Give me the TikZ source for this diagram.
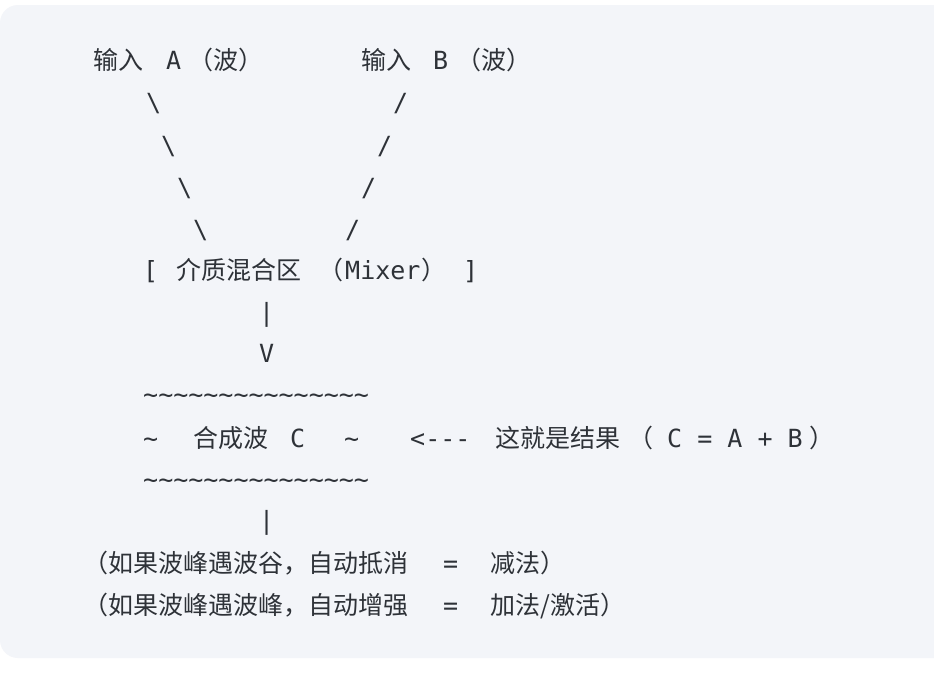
\documentclass[tikz,border=0pt]{standalone}
\usepackage{fontspec}
\setmonofont{DejaVu Sans Mono}
\newfontfamily\cjk{Noto Sans CJK SC}
\definecolor{bg}{HTML}{F3F5F9}
\definecolor{tx}{HTML}{2E3238}
\begin{document}
\begin{tikzpicture}[x=1pt,y=-1pt,
  m/.style={anchor=base west,inner sep=0pt,text=tx,font=\fontsize{25}{25}\ttfamily},
  c/.style={anchor=base west,inner sep=0pt,text=tx,font=\fontsize{25}{25}\cjk}]
\useasboundingbox (0,0) rectangle (934,672);
\fill[white] (0,0) rectangle (934,672);
\fill[bg,rounded corners=18pt] (0,5) rectangle (960,658);
\def\b{9}
% line 1
\node[c] (a1) at (93,60+\b) {输入};
\node[m] (a2) at (166,60+\b) {A};
\node[c] (a3) at (188,60+\b) {（波）};
\node[c] (b1) at (361,60+\b) {输入};
\node[m] (b2) at (433,60+\b) {B};
\node[c] (b3) at (456,60+\b) {（波）};
% slashes
\node[m] (s1) at (146,102+\b) {\textbackslash};
\node[m] (s2) at (161,145+\b) {\textbackslash};
\node[m] (s3) at (177,187+\b) {\textbackslash};
\node[m] (s4) at (193,229+\b) {\textbackslash};
\node[m] (t1) at (393,102+\b) {/};
\node[m] (t2) at (377,145+\b) {/};
\node[m] (t3) at (361,187+\b) {/};
\node[m] (t4) at (345,229+\b) {/};
% mixer
\node[m] (m1) at (143,270+\b) {[};
\node[c] (m2) at (176,270+\b) {介质混合区};
\node[c] (m3) at (318,270+\b) {（};
\node[m] (m4) at (345,270+\b) {Mixer};
\node[c] (m5) at (421,270+\b) {）};
\node[m] (m6) at (463,270+\b) {]};
\node[m] (p1) at (259,312+\b) {|};
\node[m] (v1) at (259,353+\b) {V};
% wave
\node[m] (w1) at (143,394+\b) {\string~\string~\string~\string~\string~\string~\string~\string~\string~\string~\string~\string~\string~\string~\string~};
\node[m] (w2) at (143,438+\b) {\string~};
\node[c] (w3) at (193,438+\b) {合成波};
\node[m] (w4) at (290,438+\b) {C};
\node[m] (w5) at (344,438+\b) {\string~};
\node[m] (w6) at (410,438+\b) {<---};
\node[c] (w7) at (495,438+\b) {这就是结果};
\node[c] (w8) at (628,438+\b) {（};
\node[m] (w9) at (667,438+\b) {C = A + B};
\node[c] (w10) at (809,438+\b) {）};
\node[m] (w11) at (143,479+\b) {\string~\string~\string~\string~\string~\string~\string~\string~\string~\string~\string~\string~\string~\string~\string~};
\node[m] (p2) at (259,520+\b) {|};
% notes
\node[c] (n1) at (83,563+\b) {（如果波峰遇波谷，自动抵消};
\node[m] (n2) at (443,563+\b) {=};
\node[c] (n3) at (490,563+\b) {减法）};
\node[c] (o1) at (83,605+\b) {（如果波峰遇波峰，自动增强};
\node[m] (o2) at (443,605+\b) {=};
\node[c] (o3) at (490,605+\b) {加法/激活）};
\end{tikzpicture}
\end{document}
